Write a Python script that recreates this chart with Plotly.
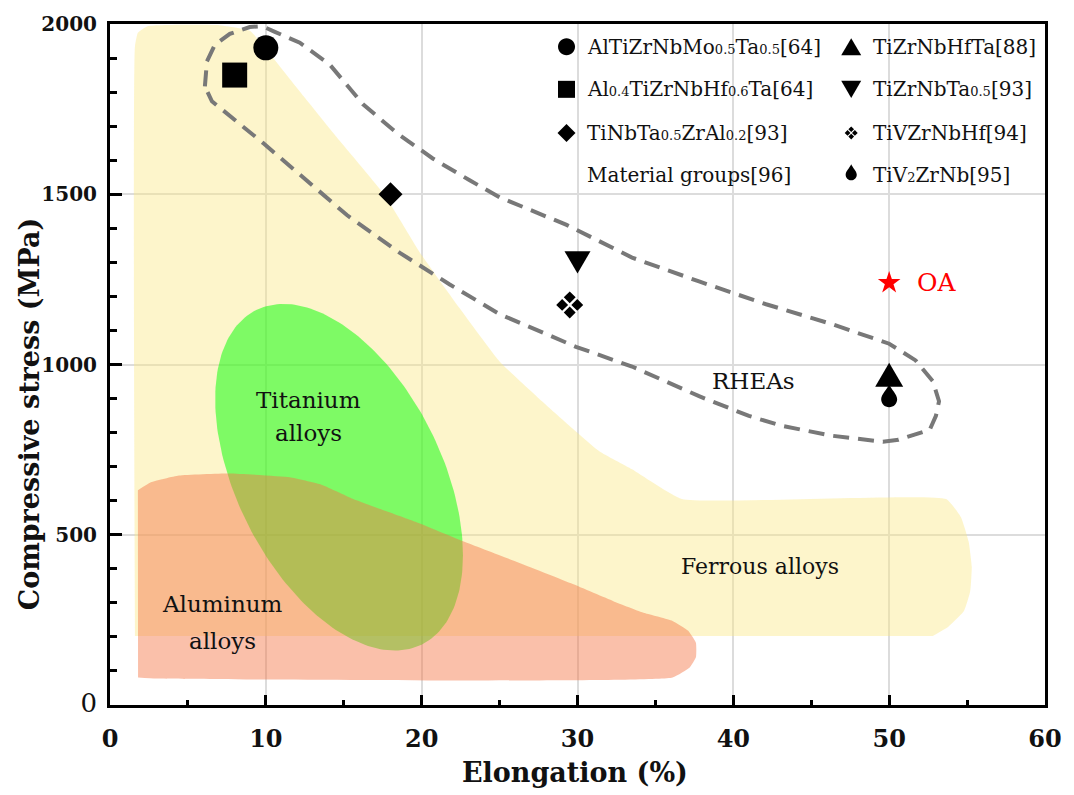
import numpy as np
import plotly.graph_objects as go

# ---------------- axes ----------------
X_RANGE = [0, 60]
Y_RANGE = [0, 2000]
x_ticks = [0, 10, 20, 30, 40, 50, 60]
y_ticks = [0, 500, 1000, 1500, 2000]
y_tick_text = ["<span style='font-size:26px'>0</span>", "<b>500</b>", "<b>1000</b>", "<b>1500</b>", "<b>2000</b>"]
x_tick_text = ["<b>%d</b>" % v for v in x_ticks]

# ---------------- material-group regions (elongation %, stress MPa) ----------------
ferrous_x = [1.6, 1.6, 1.79, 2.44, 6.86, 8.97, 10.13, 12.18, 14.74, 17.63, 19.87, 22.44, 25.0,
             28.2, 31.4, 33.5, 36.7, 53.65, 54.6, 55.1, 55.3, 55.2, 54.8, 53.8, 52.8]
ferrous_y = [203, 1933, 1974, 1994, 1997, 1980, 1919, 1802, 1657, 1497, 1330, 1165, 1009,
             872, 745, 692, 605, 605, 552, 480, 407, 334, 276, 230, 203]

aluminum_x = [1.79, 2.63, 4.42, 7.69, 11.54, 13.5, 15.6, 19.6, 22.7, 26.0, 29.7, 32.3, 34.3,
              36.1, 37.1, 37.6, 37.6, 37.2, 36.1, 3.0, 1.8]
aluminum_y = [631, 654, 674, 680, 669, 648, 605, 538, 480, 422, 355, 305, 270,
              247, 218, 183, 140, 110, 81, 78, 81]

# titanium alloys: tilted ellipse (centre, half extents along the axes, x-y correlation)
ti_center = (14.7, 669)
ti_half_x = 7.95
ti_half_y = 509
ti_corr = -0.45

# RHEA envelope (dashed)
rhea_x = [6.09, 6.22, 6.73, 7.69, 8.97, 9.74, 10.58, 12.18, 14.10, 16.22, 18.40, 20.71, 23.08,
          25.0, 29.3, 33.5, 37.8, 42.1, 46.3, 50.0, 51.7, 52.8, 53.2, 53.0, 52.6, 50.6, 49.6,
          46.3, 43.1, 41.0, 37.8, 33.5, 29.9, 25.0, 21.8, 18.6, 15.2, 13.0, 9.81, 6.54, 6.09]
rhea_y = [1817, 1890, 1939, 1971, 1991, 1994, 1977, 1945, 1881, 1765, 1680, 1605, 1541,
          1491, 1410, 1314, 1244, 1177, 1119, 1061, 1012, 951, 892, 849, 808, 779, 773,
          791, 820, 849, 907, 994, 1052, 1148, 1235, 1328, 1439, 1526, 1651, 1773, 1817]

# ---------------- alloys ----------------
SUB = "<span style='font-size:13px'>%s</span>"
alloy_labels = [
    "AlTiZrNbMo" + SUB % "0.5" + "Ta" + SUB % "0.5" + "[64]",
    "Al" + SUB % "0.4" + "TiZrNbHf" + SUB % "0.6" + "Ta[64]",
    "TiNbTa" + SUB % "0.5" + "ZrAl" + SUB % "0.2" + "[93]",
    "TiZrNbHfTa[88]",
    "TiZrNbTa" + SUB % "0.5" + "[93]",
    "TiVZrNbHf[94]",
    "TiV" + SUB % "2" + "ZrNb[95]",
]
alloy_x = [10, 8, 18, 50, 30, 29.5, 50]
alloy_y = [1930, 1850, 1500, 970, 1300, 1175, 895]
alloy_symbols = ["circle", "square", "diamond", "triangle-up", "triangle-down", "quad", "drop"]

group_label = "Material groups[96]"

oa_x = [50]
oa_y = [1240]

# ---------------- figure geometry ----------------
W, H = 1074, 795
M_L, M_R, M_T, M_B = 110, 28, 17, 90
PW, PH = W - M_L - M_R, H - M_T - M_B

FONT = "DejaVu Serif"
GRID = "#dcdcdc"


def sym_path(kind, s):
    """SVG path (pixel units, y up) for a marker of nominal size s."""
    if kind == "circle":
        r = s / 2
        k = 0.5523 * r
        return (f"M{r},0 C{r},{k} {k},{r} 0,{r} C{-k},{r} {-r},{k} {-r},0 "
                f"C{-r},{-k} {-k},{-r} 0,{-r} C{k},{-r} {r},{-k} {r},0 Z")
    if kind == "square":
        h = s / 2
        return f"M{-h},{-h} L{h},{-h} L{h},{h} L{-h},{h} Z"
    if kind == "diamond":
        h = s / 2
        return f"M0,{h} L{h},0 L0,{-h} L{-h},0 Z"
    if kind == "triangle-up":
        a, h = s / 2, s * 0.43
        return f"M0,{h} L{a},{-h} L{-a},{-h} Z"
    if kind == "triangle-down":
        a, h = s / 2, s * 0.43
        return f"M0,{-h} L{a},{h} L{-a},{h} Z"
    if kind == "quad":
        d, r = s * 0.28, s * 0.22
        parts = []
        for cx, cy in [(0, d), (d, 0), (0, -d), (-d, 0)]:
            parts.append(f"M{cx:.2f},{cy + r:.2f} L{cx + r:.2f},{cy:.2f} "
                         f"L{cx:.2f},{cy - r:.2f} L{cx - r:.2f},{cy:.2f} Z")
        return " ".join(parts)
    if kind == "drop":
        f = s / 23.0
        pts = [(0, 16), (2, 11), (8, 6), (8, 1), (8, -3.4), (4.4, -7), (0, -7),
               (-4.4, -7), (-8, -3.4), (-8, 1), (-8, 6), (-2, 11), (0, 16)]
        p = [(x * f, y * f) for x, y in pts]
        out = f"M{p[0][0]:.2f},{p[0][1]:.2f}"
        for i in range(1, len(p), 3):
            out += (f" C{p[i][0]:.2f},{p[i][1]:.2f} {p[i+1][0]:.2f},{p[i+1][1]:.2f} "
                    f"{p[i+2][0]:.2f},{p[i+2][1]:.2f}")
        return out + " Z"
    raise ValueError(kind)


fig = go.Figure()

# ferrous alloys
fig.add_trace(go.Scatter(x=ferrous_x, y=ferrous_y, mode="lines", fill="toself",
                         fillcolor="rgba(250,232,130,0.42)", line=dict(width=0, shape="spline", smoothing=0.4),
                         hoverinfo="skip", showlegend=False))

# titanium alloys ellipse
t = np.linspace(0, 2 * np.pi, 241)
ti_x = ti_center[0] + ti_half_x * np.cos(t)
ti_y = ti_center[1] + ti_half_y * (ti_corr * np.cos(t) + np.sqrt(1 - ti_corr ** 2) * np.sin(t))
fig.add_trace(go.Scatter(x=ti_x, y=ti_y, mode="lines", fill="toself",
                         fillcolor="rgba(0,255,0,0.5)", line=dict(width=0),
                         hoverinfo="skip", showlegend=False))

# aluminum alloys
fig.add_trace(go.Scatter(x=aluminum_x, y=aluminum_y, mode="lines", fill="toself",
                         fillcolor="rgba(244,116,68,0.455)", line=dict(width=0, shape="spline", smoothing=0.4),
                         hoverinfo="skip", showlegend=False))

# RHEA envelope
fig.add_trace(go.Scatter(x=rhea_x, y=rhea_y, mode="lines",
                         line=dict(color="rgb(120,120,120)", width=4, dash="16px,9px"),
                         hoverinfo="skip", showlegend=False))

# alloy marks
data_sizes = {"circle": 25, "square": 25, "diamond": 24, "triangle-up": 28,
              "triangle-down": 26, "quad": 27, "drop": 23}
shapes = []
for name, xv, yv, sym in zip(alloy_labels, alloy_x, alloy_y, alloy_symbols):
    if sym in ("circle", "square"):
        fig.add_trace(go.Scatter(x=[xv], y=[yv], mode="markers", name=name,
                                 marker=dict(symbol=sym, size=data_sizes[sym], color="black"),
                                 showlegend=False))
    else:
        shapes.append(dict(type="path", xref="x", yref="y", xsizemode="pixel", ysizemode="pixel",
                           xanchor=xv, yanchor=yv, path=sym_path(sym, data_sizes[sym]),
                           fillcolor="black", line=dict(width=0)))

# OA
fig.add_trace(go.Scatter(x=oa_x, y=oa_y, mode="markers", name="OA",
                         marker=dict(symbol="star", size=17, color="red"), showlegend=False))

annotations = []
annotations.append(dict(x=oa_x[0], y=oa_y[0], xref="x", yref="y", text="OA", showarrow=False,
                        xanchor="left", yanchor="middle", xshift=26,
                        font=dict(family=FONT, size=25, color="red")))

# region labels (one line each)
region_labels = [
    ("Titanium", 12.75, 895, 23), ("alloys", 12.75, 800, 23),
    ("Aluminum", 7.2, 296, 23), ("alloys", 7.2, 187, 23),
    ("Ferrous alloys", 41.7, 407, 22),
    ("RHEAs", 41.3, 951, 23),
]
for txt, xv, yv, fs in region_labels:
    annotations.append(dict(x=xv, y=yv, xref="x", yref="y", text=txt, showarrow=False,
                            xanchor="center", yanchor="middle",
                            font=dict(family=FONT, size=fs, color="#111")))

# key (two columns, four rows)
key_entries = [
    (alloy_labels[0], "circle"), (alloy_labels[1], "square"), (alloy_labels[2], "diamond"),
    (group_label, None),
    (alloy_labels[3], "triangle-up"), (alloy_labels[4], "triangle-down"),
    (alloy_labels[5], "quad"), (alloy_labels[6], "drop"),
]
key_sizes = {"circle": 17, "square": 17, "diamond": 18, "triangle-up": 20,
             "triangle-down": 20, "quad": 13, "drop": 16}
col_sym_px = [567, 852]
col_txt_px = [586, 872]
row_px = [40, 83, 127, 170]
for i, (label, sym) in enumerate(key_entries):
    c, r = divmod(i, 4)
    yp = (H - M_B - row_px[r]) / PH
    if sym is not None:
        shapes.append(dict(type="path", xref="paper", yref="paper", xsizemode="pixel",
                           ysizemode="pixel", xanchor=(col_sym_px[c] - M_L) / PW, yanchor=yp,
                           path=sym_path(sym, key_sizes[sym]), fillcolor="black",
                           line=dict(width=0)))
    annotations.append(dict(x=(col_txt_px[c] - M_L) / PW, y=yp, xref="paper", yref="paper",
                            text=label, showarrow=False, xanchor="left", yanchor="middle",
                            font=dict(family=FONT, size=20, color="#111")))

# axis titles
annotations.append(dict(x=0.497, y=-0.099, xref="paper", yref="paper",
                        text="<b>Elongation (%)</b>", showarrow=False,
                        xanchor="center", yanchor="middle",
                        font=dict(family=FONT, size=27, color="#111")))
annotations.append(dict(x=-0.0865, y=0.427, xref="paper", yref="paper",
                        text="<b>Compressive stress (MPa)</b>", showarrow=False, textangle=-90,
                        xanchor="center", yanchor="middle",
                        font=dict(family=FONT, size=27, color="#111")))

x_minor = [v for v in range(5, 60, 5) if v % 10]
y_minor = [v for v in range(100, 2000, 100) if v % 500]

fig.update_layout(
    width=W, height=H,
    margin=dict(l=M_L, r=M_R, t=M_T, b=M_B),
    paper_bgcolor="white", plot_bgcolor="white",
    font=dict(family=FONT, color="#111"),
    showlegend=False,
    shapes=shapes,
    annotations=annotations,
    xaxis=dict(range=X_RANGE, tickmode="array", tickvals=x_ticks, ticktext=x_tick_text,
               ticks="inside", ticklen=10, tickwidth=3, tickcolor="black",
               showline=True, linewidth=3, linecolor="black", mirror=True,
               showgrid=True, gridcolor=GRID, gridwidth=2, zeroline=False,
               tickfont=dict(family=FONT, size=24, color="#111"), ticklabelstandoff=10,
               minor=dict(tickmode="array", tickvals=x_minor, ticks="inside", ticklen=5,
                          tickwidth=3, tickcolor="black", showgrid=False)),
    yaxis=dict(range=Y_RANGE, tickmode="array", tickvals=y_ticks, ticktext=y_tick_text,
               ticks="inside", ticklen=12, tickwidth=3, tickcolor="black",
               showline=True, linewidth=3, linecolor="black", mirror=True,
               showgrid=True, gridcolor=GRID, gridwidth=2, zeroline=False,
               tickfont=dict(family=FONT, size=20, color="#111"), ticklabelstandoff=6,
               minor=dict(tickmode="array", tickvals=y_minor, ticks="inside", ticklen=7,
                          tickwidth=3, tickcolor="black", showgrid=False)),
)

fig.write_html("out.html")
